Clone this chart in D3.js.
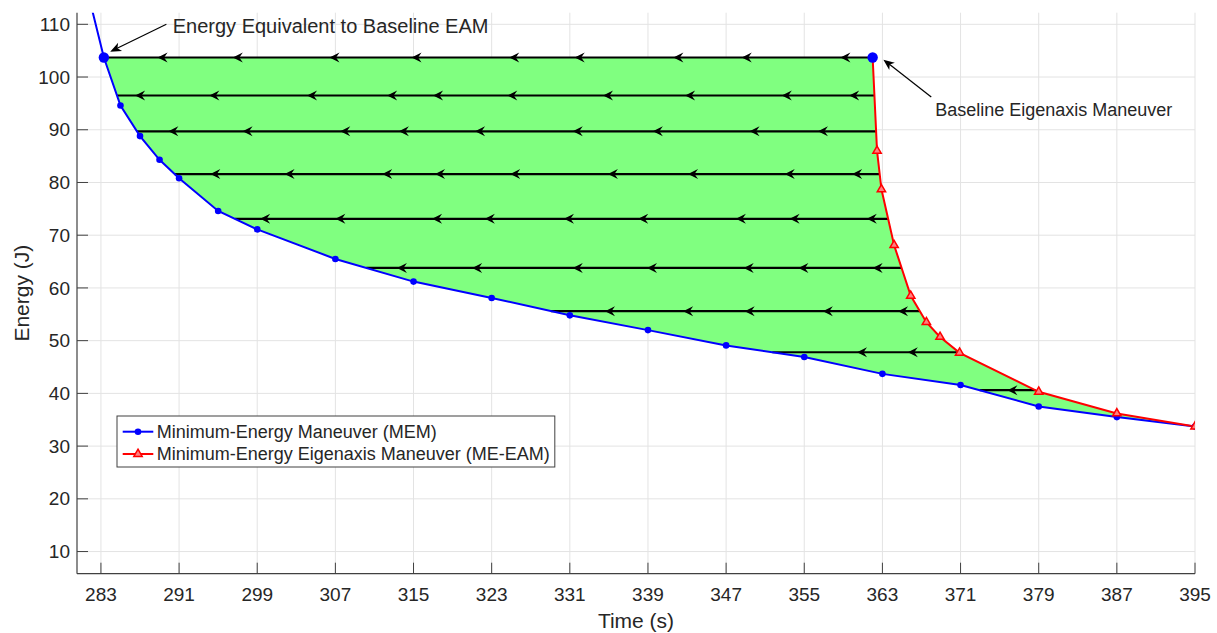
<!DOCTYPE html>
<html>
    <head>
        <meta charset="utf-8"/>
        <script src="https://d3js.org/d3.v7.min.js"></script>
        <style>
            body { margin: 0; background: #fff; }
            text { font-family: "Liberation Sans", Arial, Helvetica, sans-serif; fill: #262626; }
        </style>
    </head>
    <body>
        <svg id="chart" width="1217" height="633"></svg>

        <script>
            // Minimum-Energy Maneuver (blue curve), [time, energy]
            var memPoints = [
                [281, 121], [283.3, 103.7], [285, 94.6], [287, 88.8], [289, 84.3], [291, 80.8],
                [295, 74.6], [299, 71.1], [307, 65.5], [315, 61.2], [323, 58.1], [331, 54.8],
                [339, 52.0], [347, 49.1], [355, 46.9], [363, 43.7], [371, 41.6], [379, 37.5],
                [387, 35.5], [395, 33.7]
            ];
            // Minimum-Energy Eigenaxis Maneuver (red curve)
            var meeamPoints = [
                [362, 103.7], [362.45, 86.0], [362.9, 78.7], [364.2, 68.1], [365.9, 58.5],
                [367.5, 53.5], [368.9, 50.7], [370.9, 47.7], [379, 40.3], [387, 36.2], [395, 33.7]
            ];
            // the two highlighted points
            var eamEquivalent = [283.3, 103.7];
            var baselineEAM = [362, 103.7];

            // horizontal flow lines (energy level) and where their arrowheads sit (time)
            var flowLevels = [103.7, 96.5, 89.7, 81.6, 73.1, 63.8, 55.6, 47.8, 40.6];
            var flowArrows = [
                [288.8, 296.5, 306.4, 314.8, 324.8, 331.5, 341.6, 348.6, 358.7],
                [286.5, 294.1, 304.1, 312.3, 317.0, 324.6, 334.4, 342.8, 352.7, 359.6],
                [289.9, 297.5, 307.5, 313.5, 321.3, 331.3, 339.5, 349.4, 356.4],
                [294.2, 301.8, 311.8, 317.2, 324.9, 334.9, 343.1, 353.0, 359.9],
                [299.3, 307.0, 316.9, 322.3, 330.4, 338.0, 348.0, 353.5, 361.4],
                [313.3, 321.0, 331.3, 338.9, 348.8, 354.4, 362.0],
                [334.6, 342.6, 348.9, 356.9, 364.6],
                [360.4, 365.6],
                [375.8]
            ];

            var xTicks = [283, 291, 299, 307, 315, 323, 331, 339, 347, 355, 363, 371, 379, 387, 395];
            var yTicks = [10, 20, 30, 40, 50, 60, 70, 80, 90, 100, 110];

            var legendLabels = ["Minimum-Energy Maneuver (MEM)", "Minimum-Energy Eigenaxis Maneuver (ME-EAM)"];

            // annotations: tail, tip, text anchor (data coords)
            var notes = [
                { text: "Energy Equivalent to Baseline EAM", size: 20, tail: [289.7, 110.0], tip: [283.95, 104.8], at: [290.35, 108.3] },
                { text: "Baseline Eigenaxis Maneuver", size: 18, tail: [368.0, 96.2], tip: [363.1, 103.3], at: [368.4, 92.6] }
            ];

            var svg = d3.select("#chart");
            var pLeft = 77, pTop = 12.7, pRight = 1195, pBottom = 573.7;

            var x = d3.scaleLinear().domain([280.55, 395]).range([pLeft, pRight]);
            var y = d3.scaleLinear().domain([5.8, 112.2]).range([pBottom, pTop]);

            svg.append("defs").append("clipPath").attr("id", "clip")
                .append("rect").attr("x", pLeft).attr("y", pTop)
                .attr("width", pRight - pLeft).attr("height", pBottom - pTop);

            // grid
            var grid = svg.append("g");
            grid.selectAll(".vg").data(xTicks).enter().append("line")
                .attr("x1", d => x(d)).attr("x2", d => x(d))
                .attr("y1", pTop).attr("y2", pBottom)
                .style("stroke", "#e3e3e3").style("stroke-width", 1);
            grid.selectAll(".hg").data(yTicks).enter().append("line")
                .attr("x1", pLeft).attr("x2", pRight)
                .attr("y1", d => y(d)).attr("y2", d => y(d))
                .style("stroke", "#e3e3e3").style("stroke-width", 1);

            var plot = svg.append("g").attr("clip-path", "url(#clip)");

            // green region between the curves
            var region = memPoints.slice(1).concat(meeamPoints.slice().reverse());
            plot.append("path")
                .attr("d", d3.line().x(d => x(d[0])).y(d => y(d[1]))(region) + "Z")
                .style("fill", "#80ff80").style("stroke", "none");

            // find time where a curve reaches a given energy
            function timeAt(pts, level) {
                for (var i = 0; i < pts.length - 1; i++) {
                    var a = pts[i], b = pts[i + 1];
                    if ((a[1] >= level && b[1] <= level)) {
                        return a[0] + (a[1] - level) / (a[1] - b[1]) * (b[0] - a[0]);
                    }
                }
                return pts[pts.length - 1][0];
            }

            flowLevels.forEach(function(lv, i) {
                var x0 = timeAt(memPoints, lv), x1 = timeAt(meeamPoints, lv);
                plot.append("line")
                    .attr("x1", x(x0)).attr("x2", x(x1))
                    .attr("y1", y(lv)).attr("y2", y(lv))
                    .style("stroke", "#000").style("stroke-width", 2.2);
                plot.selectAll(".ah" + i).data(flowArrows[i]).enter().append("path")
                    .attr("transform", d => "translate(" + x(d) + "," + y(lv) + ")")
                    .attr("d", "M0,0 L10,-5 L6.5,0 L10,5 Z")
                    .style("fill", "#000");
            });

            var line = d3.line().x(d => x(d[0])).y(d => y(d[1]));

            plot.append("path").attr("d", line(memPoints))
                .style("fill", "none").style("stroke", "#0000ff").style("stroke-width", 2);
            plot.append("path").attr("d", line(meeamPoints))
                .style("fill", "none").style("stroke", "#ff0000").style("stroke-width", 2);

            plot.selectAll(".memdot").data(memPoints.slice(1)).enter().append("circle")
                .attr("cx", d => x(d[0])).attr("cy", d => y(d[1])).attr("r", 3.3)
                .style("fill", "#0000ff");

            var tri = d3.symbol().type(d3.symbolTriangle).size(30);
            plot.selectAll(".eamtri").data(meeamPoints.slice(1)).enter().append("path")
                .attr("transform", d => "translate(" + x(d[0]) + "," + y(d[1]) + ")")
                .attr("d", tri)
                .style("fill", "#ff8080").style("stroke", "#ff0000").style("stroke-width", 1.5);

            plot.selectAll(".big").data([eamEquivalent, baselineEAM]).enter().append("circle")
                .attr("cx", d => x(d[0])).attr("cy", d => y(d[1])).attr("r", 5.2)
                .style("fill", "#0000ff");

            // axes
            var axisColor = "#404040";
            svg.append("line").attr("x1", pLeft).attr("x2", pRight).attr("y1", pBottom).attr("y2", pBottom)
                .style("stroke", axisColor).style("stroke-width", 1.2);
            svg.append("line").attr("x1", pLeft).attr("x2", pLeft).attr("y1", pTop).attr("y2", pBottom)
                .style("stroke", axisColor).style("stroke-width", 1.2);

            svg.selectAll(".xt").data(xTicks).enter().append("line")
                .attr("x1", d => x(d)).attr("x2", d => x(d))
                .attr("y1", pBottom).attr("y2", pBottom - 11)
                .style("stroke", axisColor).style("stroke-width", 1);
            svg.selectAll(".yt").data(yTicks).enter().append("line")
                .attr("x1", pLeft).attr("x2", pLeft + 11)
                .attr("y1", d => y(d)).attr("y2", d => y(d))
                .style("stroke", axisColor).style("stroke-width", 1);

            svg.selectAll(".xl").data(xTicks).enter().append("text")
                .attr("x", d => x(d)).attr("y", 601)
                .attr("text-anchor", "middle").style("font-size", "19px")
                .text(d => d);
            svg.selectAll(".yl").data(yTicks).enter().append("text")
                .attr("x", 70).attr("y", d => y(d)).attr("dy", "0.35em")
                .attr("text-anchor", "end").style("font-size", "19px")
                .text(d => d);

            svg.append("text").attr("x", (pLeft + pRight) / 2).attr("y", 628)
                .attr("text-anchor", "middle").style("font-size", "21px").text("Time (s)");
            svg.append("text")
                .attr("transform", "translate(29," + ((pTop + pBottom) / 2) + ") rotate(-90)")
                .attr("text-anchor", "middle").style("font-size", "21px").text("Energy (J)");

            // legend
            var leg = svg.append("g");
            var box = leg.append("rect").attr("x", 117).attr("y", 416).attr("height", 51)
                .style("fill", "#fff").style("stroke", "#404040").style("stroke-width", 1);
            var maxW = 0;
            legendLabels.forEach(function(lbl, i) {
                var ly = 431.7 + i * 22.3;
                var col = i === 0 ? "#0000ff" : "#ff0000";
                leg.append("line").attr("x1", 122.7).attr("x2", 153.3).attr("y1", ly).attr("y2", ly)
                    .style("stroke", col).style("stroke-width", 2);
                if (i === 0) {
                    leg.append("circle").attr("cx", 138).attr("cy", ly).attr("r", 3.3).style("fill", col);
                } else {
                    leg.append("path").attr("transform", "translate(138," + ly + ")").attr("d", tri)
                        .style("fill", "#ff8080").style("stroke", col).style("stroke-width", 1.5);
                }
                var t = leg.append("text").attr("x", 156.7).attr("y", ly).attr("dy", "0.35em")
                    .style("font-size", "18px").text(lbl);
                maxW = Math.max(maxW, t.node().getComputedTextLength());
            });
            box.attr("width", 156.7 + maxW + 5 - 117);

            // annotations
            notes.forEach(function(n) {
                var x1 = x(n.tail[0]), y1 = y(n.tail[1]), x2 = x(n.tip[0]), y2 = y(n.tip[1]);
                var ang = Math.atan2(y2 - y1, x2 - x1) * 180 / Math.PI;
                var len = Math.hypot(x2 - x1, y2 - y1);
                var g = svg.append("g").attr("transform", "translate(" + x2 + "," + y2 + ") rotate(" + ang + ")");
                g.append("line").attr("x1", -len).attr("x2", -6).attr("y1", 0).attr("y2", 0)
                    .style("stroke", "#000").style("stroke-width", 1.2);
                g.append("path").attr("d", "M0,0 L-11,-4.5 L-8,0 L-11,4.5 Z").style("fill", "#000");
                svg.append("text").attr("x", x(n.at[0])).attr("y", y(n.at[1]))
                    .style("font-size", n.size + "px").text(n.text);
            });
        </script>
    </body>
</html>
